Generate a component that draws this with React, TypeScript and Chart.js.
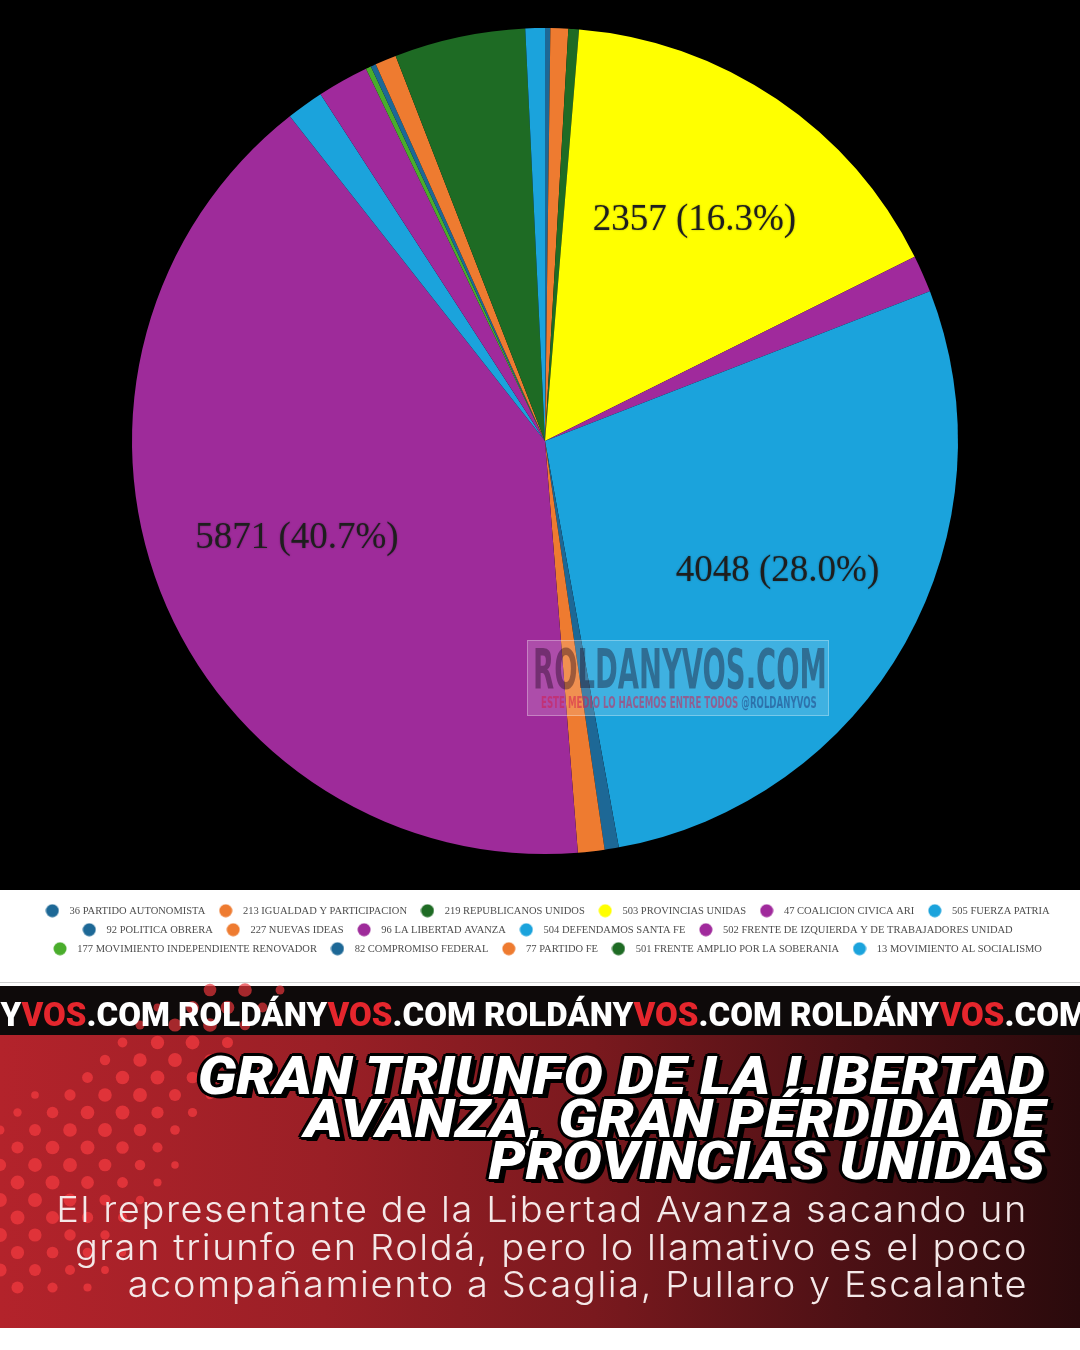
import React, { useEffect, useRef } from "react";
import { Chart, registerables } from "chart.js";

Chart.register(...registerables);

// ---- data ----
const PARTIES: string[] = [
  "36 PARTIDO AUTONOMISTA",
  "213 IGUALDAD Y PARTICIPACION",
  "219 REPUBLICANOS UNIDOS",
  "503 PROVINCIAS UNIDAS",
  "47 COALICION CIVICA ARI",
  "505 FUERZA PATRIA",
  "92 POLITICA OBRERA",
  "227 NUEVAS IDEAS",
  "96 LA LIBERTAD AVANZA",
  "504 DEFENDAMOS SANTA FE",
  "502 FRENTE DE IZQUIERDA Y DE TRABAJADORES UNIDAD",
  "177 MOVIMIENTO INDEPENDIENTE RENOVADOR",
  "82 COMPROMISO FEDERAL",
  "77 PARTIDO FE",
  "501 FRENTE AMPLIO POR LA SOBERANIA",
  "13 MOVIMIENTO AL SOCIALISMO",
];
const VOTES: number[] = [30, 100, 60, 2357, 210, 4048, 80, 150, 5871, 210, 290, 30, 30, 120, 740, 110];
const COLORS: string[] = [
  "#1d6896", "#ee7b30", "#1e6b24", "#ffff00", "#a02a9c", "#1ba3dc", "#1d6896", "#ee7b30",
  "#9e2b9a", "#1ba3dc", "#a02a9c", "#4aad2c", "#1d6896", "#ee7b30", "#1e6b24", "#1ba3dc",
];

const BAND_TEXT = ["ROLDÁNY", "VOS", ".COM"];
const HEADLINE: string[] = ["GRAN TRIUNFO DE LA LIBERTAD", "AVANZA, GRAN PÉRDIDA DE", "PROVINCIAS UNIDAS"];
const SUBTITLE: string[] = [
  "El representante de la Libertad Avanza sacando un",
  "gran triunfo en Roldá, pero lo llamativo es el poco",
  "acompañamiento a Scaglia, Pullaro y Escalante",
];

function dotCanvas(color: string) {
  const cv = document.createElement("canvas");
  cv.width = 14;
  cv.height = 14;
  const c = cv.getContext("2d")!;
  c.fillStyle = color;
  c.beginPath();
  c.arc(7, 7, 6.5, 0, Math.PI * 2);
  c.fill();
  return cv;
}

export default function App() {
  const ref = useRef<HTMLCanvasElement>(null);

  useEffect(() => {
    document.body.style.margin = "0";
    const total = VOTES.reduce((a, b) => a + b, 0);

    const bgPlugin = {
      id: "bg",
      beforeDraw(chart: any) {
        const { ctx, width, height } = chart;
        ctx.save();
        ctx.fillStyle = "#000";
        ctx.fillRect(0, 0, width, 905);
        ctx.fillStyle = "#fff";
        ctx.fillRect(0, 905, width, height - 905);
        ctx.fillStyle = "#cfcfcf";
        ctx.fillRect(0, 997, width, 1);
        ctx.restore();
      },
    };

    const labelPlugin = {
      id: "vlabels",
      afterDatasetsDraw(chart: any) {
        const { ctx } = chart;
        const meta = chart.getDatasetMeta(0);
        ctx.save();
        ctx.font = "37px 'Liberation Serif'";
        ctx.textAlign = "center";
        ctx.textBaseline = "middle";
        ctx.fillStyle = "#1e1e1e";
        ctx.shadowColor = "rgba(0,0,0,0.35)";
        ctx.shadowBlur = 2;
        meta.data.forEach((arc: any, i: number) => {
          const v = VOTES[i];
          const pct = (v / total) * 100;
          if (pct < 10) return;
          const p = arc.getProps(["x", "y", "startAngle", "endAngle", "outerRadius"], true);
          const mid = (p.startAngle + p.endAngle) / 2;
          const r = p.outerRadius * 0.645;
          ctx.fillText(`${v} (${pct.toFixed(1)}%)`, p.x + Math.cos(mid) * r, p.y + Math.sin(mid) * r);
        });
        ctx.restore();
      },
    };

    const chart = new Chart(ref.current!, {
      type: "pie",
      data: {
        labels: PARTIES,
        datasets: [
          {
            data: VOTES,
            backgroundColor: COLORS,
            borderWidth: 0,
            radius: 413,
          } as any,
        ],
      },
      options: {
        responsive: false,
        animation: false,
        layout: { padding: { left: 10, right: 0, top: 0, bottom: 21 } },
        plugins: {
          tooltip: { enabled: false },
          legend: {
            position: "bottom",
            labels: {
              usePointStyle: true,
              pointStyleWidth: 24,
              boxHeight: 10,
              padding: 8.5,
              color: "#4d4d4d",
              font: { family: "'Liberation Serif'", size: 10.5 },
              generateLabels: () =>
                PARTIES.map((t, i) => ({
                  text: t,
                  fillStyle: COLORS[i],
                  strokeStyle: COLORS[i],
                  lineWidth: 0,
                  pointStyle: dotCanvas(COLORS[i]) as any,
                  hidden: false,
                  index: i,
                  fontColor: "#4d4d4d",
                })),
            },
          },
        },
      },
      plugins: [bgPlugin, labelPlugin],
    });
    return () => chart.destroy();
  }, []);

  const reps = [-1, 0, 1, 2, 3];

  // decorative halftone dots (diagonal band, lower-left to upper-right)
  const dots: { x: number; y: number; r: number }[] = [];
  for (let gy = 0; gy < 20; gy++) {
    const y = 990 + gy * 17.5;
    if (y > 1295) continue;
    const right = 290 - (y - 990) * 0.62;
    const left = 120 - (y - 1030) * 1.4;
    for (let gx = -1; gx < 10; gx++) {
      const x = gx * 35 + (gy % 2) * 17.5;
      if (x < -8 || x > right || x < left) continue;
      const t = (x - left) / Math.max(20, right - left);
      const r = 3.5 + 3.5 * Math.sin(Math.PI * Math.min(1, Math.max(0, t)));
      dots.push({ x, y, r });
    }
  }

  return (
    <div style={{ position: "relative", width: 1080, height: 1350, overflow: "hidden", background: "#fff" }}>
      <canvas
        ref={ref}
        width={1080}
        height={1000}
        style={{ position: "absolute", left: 0, top: -15, display: "block" }}
      />
      {/* watermark */}
      <div
        style={{
          position: "absolute",
          left: 527,
          top: 640,
          width: 302,
          height: 76,
          background: "rgba(255,255,255,0.16)",
          border: "1px solid rgba(255,255,255,0.3)",
          boxSizing: "border-box",
          overflow: "hidden",
        }}
      >
        <div
          style={{
            position: "absolute",
            left: 5,
            top: 0,
            fontFamily: "'DejaVu Sans'",
            fontWeight: 700,
            fontSize: 56,
            lineHeight: "56px",
            color: "rgba(20,0,20,0.38)",
            whiteSpace: "nowrap",
            transform: "scaleX(0.49)",
            transformOrigin: "left top",
          }}
        >
          ROLDANYVOS.COM
        </div>
        <div
          style={{
            position: "absolute",
            left: 13,
            top: 54,
            fontFamily: "'DejaVu Sans'",
            fontWeight: 700,
            fontSize: 15,
            lineHeight: "16px",
            whiteSpace: "nowrap",
            transform: "scaleX(0.575)",
            transformOrigin: "left top",
          }}
        >
          <span style={{ color: "rgba(210,30,80,0.55)" }}>ESTE MEDIO LO HACEMOS ENTRE TODOS </span>
          <span style={{ color: "rgba(20,20,90,0.4)" }}>@ROLDANYVOS</span>
        </div>
      </div>

      {/* red area */}
      <div
        style={{
          position: "absolute",
          left: 0,
          top: 1035,
          width: 1080,
          height: 293,
          background: "linear-gradient(90deg, #b3232b 0%, #9a1f26 30%, #7a191e 55%, #4a1014 80%, #2a0a0c 100%)",
        }}
      />
      {/* black band */}
      <div style={{ position: "absolute", left: 0, top: 986, width: 1080, height: 49, background: "#0e0a0a" }} />
      {/* halftone dots */}
      <svg width={1080} height={1350} style={{ position: "absolute", left: 0, top: 0 }}>
        {dots.map((d, i) => (
          <circle key={i} cx={d.x} cy={d.y} r={d.r} fill="#e5353b" opacity={d.y < 1035 ? 0.7 : 0.9} />
        ))}
      </svg>
      {/* band text */}
      {reps.map((k) => (
        <div
          key={k}
          style={{
            position: "absolute",
            left: 178 + k * 306,
            top: 996,
            fontFamily: "Roboto",
            fontWeight: 900,
            fontSize: 33,
            lineHeight: "38px",
            letterSpacing: "0px",
            whiteSpace: "nowrap",
            color: "#fff",
          }}
        >
          {BAND_TEXT[0]}
          <span style={{ color: "#e5262d" }}>{BAND_TEXT[1]}</span>
          {BAND_TEXT[2]}
        </div>
      ))}
      {/* headline */}
      <div
        style={{
          position: "absolute",
          right: 35,
          top: 1055,
          textAlign: "right",
          fontFamily: "Roboto",
          fontWeight: 900,
          fontStyle: "italic",
          fontSize: 54,
          lineHeight: "42.5px",
          letterSpacing: "0px",
          color: "#fff",
          whiteSpace: "nowrap",
          transform: "scaleX(1.085)",
          transformOrigin: "right top",
          textShadow:
            "3px 0 0 #000, -3px 0 0 #000, 0 3px 0 #000, 0 -3px 0 #000, 2px 2px 0 #000, -2px -2px 0 #000, 2px -2px 0 #000, -2px 2px 0 #000, 5px 4px 0 #000",
        }}
      >
        {HEADLINE.map((l, i) => (
          <div key={i}>{l}</div>
        ))}
      </div>
      {/* subtitle */}
      <div
        style={{
          position: "absolute",
          right: 52,
          top: 1191,
          textAlign: "right",
          fontFamily: "Inter",
          fontWeight: 300,
          fontSize: 36,
          lineHeight: "37.5px",
          letterSpacing: "1.5px",
          color: "#f4e8e8",
          whiteSpace: "nowrap",
          transform: "scaleX(1.055)",
          transformOrigin: "right top",
        }}
      >
        {SUBTITLE.map((l, i) => (
          <div key={i}>{l}</div>
        ))}
      </div>
    </div>
  );
}
